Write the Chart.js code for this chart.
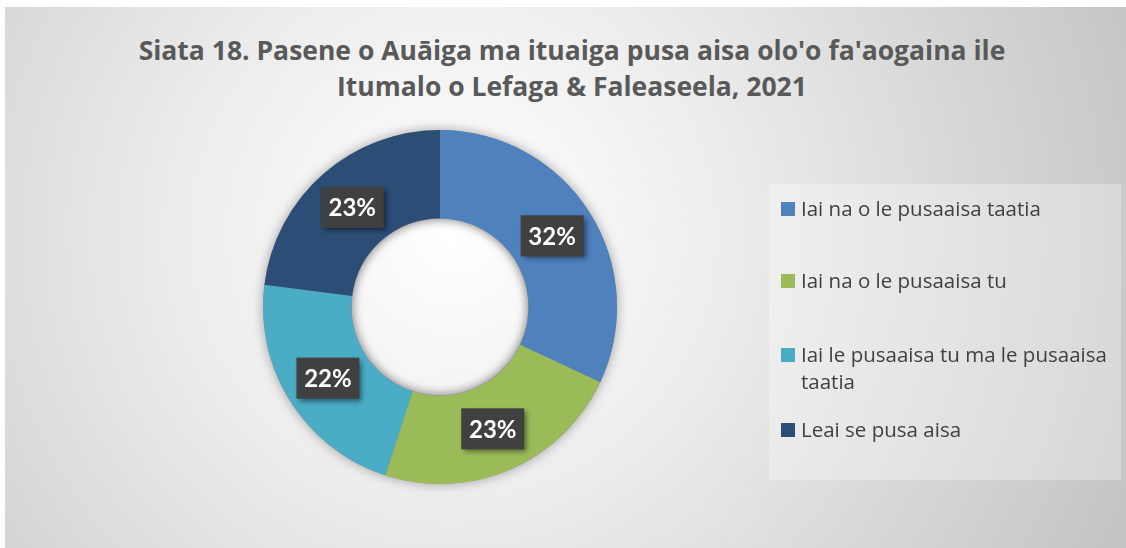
<!DOCTYPE html>
<html>
<head>
<meta charset="utf-8">
<script src="https://cdn.jsdelivr.net/npm/chart.js@4.4.1/dist/chart.umd.min.js"></script>
<style>
    html, body { margin: 0; padding: 0; background: #ffffff; }
    #wrap {
        position: absolute; left: 5px; top: 7px; width: 1121px; height: 541px;
        background: radial-gradient(circle farthest-corner at 40% 42%, #ffffff 0%, #ececec 38%, #c3c3c3 100%);
    }
    #title {
        position: absolute; left: 0; top: 32px; width: 1144px; text-align: center;
        font-family: "Open Sans", sans-serif; font-weight: bold; font-size: 26.5px;
        line-height: 36px; color: #595959; white-space: nowrap;
    }
    #chartBox { position: absolute; left: 0; top: 0; width: 1126px; height: 548px; }
    #legend {
        position: absolute; left: 769px; top: 184px; width: 352px; height: 296px;
        background: rgba(255, 255, 255, 0.3);
        font-family: "Open Sans", sans-serif; font-size: 20.5px; color: #404040;
    }
    .item { position: absolute; left: 12px; width: 336px; line-height: 27px; padding-left: 20px; white-space: nowrap; }
    .swatch { position: absolute; left: 0; top: 7px; width: 14px; height: 14px; }
</style>
</head>
<body>
<div id="wrap"></div>
<div id="title"></div>
<div id="chartBox"><canvas id="chart" width="1126" height="548"></canvas></div>
<div id="legend"></div>
<script>
const categories = [
    'Iai na o le pusaaisa taatia',
    'Iai na o le pusaaisa tu',
    'Iai le pusaaisa tu ma le pusaaisa taatia',
    'Leai se pusa aisa'
];
const legendLines = [
    ['Iai na o le pusaaisa taatia'],
    ['Iai na o le pusaaisa tu'],
    ['Iai le pusaaisa tu ma le pusaaisa', 'taatia'],
    ['Leai se pusa aisa']
];
const percents = [32, 23, 22, 23];
const colors = ['#4F81BD', '#9BBB59', '#4BACC6', '#2C4D75'];
const titleLines = [
    "Siata 18. Pasene o Auāiga ma ituaiga pusa aisa olo'o fa'aogaina ile",
    'Itumalo o Lefaga & Faleaseela, 2021'
];

document.getElementById('title').innerHTML = titleLines.join('<br>');

// ring shadow drawn once under the slices
const ringShadow = {
    id: 'ringShadow',
    beforeDatasetsDraw(chart) {
        const arc = chart.getDatasetMeta(0).data[0];
        if (!arc) return;
        const ctx = chart.ctx;
        ctx.save();
        ctx.shadowColor = 'rgba(0,0,0,0.35)';
        ctx.shadowBlur = 12;
        ctx.fillStyle = '#888';
        ctx.beginPath();
        ctx.arc(arc.x, arc.y, arc.outerRadius, 0, Math.PI * 2);
        ctx.arc(arc.x, arc.y, arc.innerRadius, 0, Math.PI * 2, true);
        ctx.fill();
        ctx.restore();
    }
};

// dark label boxes at the middle of each slice, plus a soft shade inside the hole
const boxLabels = {
    id: 'boxLabels',
    afterDatasetsDraw(chart) {
        const ctx = chart.ctx;
        const ds = chart.data.datasets[0];
        const arcs = chart.getDatasetMeta(0).data;
        const a0 = arcs[0];
        ctx.save();
        ctx.beginPath();
        ctx.arc(a0.x, a0.y, a0.innerRadius, 0, Math.PI * 2);
        ctx.clip();
        ctx.shadowColor = 'rgba(0,0,0,0.25)';
        ctx.shadowBlur = 10;
        ctx.lineWidth = 20;
        ctx.strokeStyle = '#999';
        ctx.beginPath();
        ctx.arc(a0.x, a0.y, a0.innerRadius + 10, 0, Math.PI * 2);
        ctx.stroke();
        ctx.restore();

        arcs.forEach((arc, i) => {
            const p = arc.getCenterPoint();
            const w = 63, h = 41;
            ctx.save();
            ctx.shadowColor = 'rgba(0,0,0,0.45)';
            ctx.shadowBlur = 5;
            ctx.shadowOffsetX = 3;
            ctx.shadowOffsetY = 3;
            ctx.fillStyle = '#404040';
            ctx.fillRect(p.x - w / 2, p.y - h / 2, w, h);
            ctx.restore();
            ctx.save();
            ctx.fillStyle = '#ffffff';
            ctx.font = 'bold 24px Lato, sans-serif';
            ctx.textAlign = 'center';
            ctx.textBaseline = 'middle';
            ctx.fillText(ds.data[i] + '%', p.x, p.y + 1);
            ctx.restore();
        });
    }
};

const ctx = document.getElementById('chart').getContext('2d');
new Chart(ctx, {
    type: 'doughnut',
    data: {
        labels: categories,
        datasets: [{
            data: percents,
            backgroundColor: colors,
            borderWidth: 0
        }]
    },
    options: {
        responsive: false,
        animation: false,
        cutout: '50%',
        layout: {
            padding: { left: 263, right: 509, top: 120, bottom: 54 }
        },
        plugins: {
            legend: { display: false },
            tooltip: { enabled: false },
            title: { display: false }
        }
    },
    plugins: [ringShadow, boxLabels]
});

// legend built from the same arrays
const legend = document.getElementById('legend');
const tops = [11, 83, 157, 232];
legendLines.forEach((lines, i) => {
    const div = document.createElement('div');
    div.className = 'item';
    div.style.top = tops[i] + 'px';
    const sw = document.createElement('span');
    sw.className = 'swatch';
    sw.style.background = colors[i];
    div.appendChild(sw);
    div.innerHTML += lines.join('<br>');
    legend.appendChild(div);
});
</script>
</body>
</html>
